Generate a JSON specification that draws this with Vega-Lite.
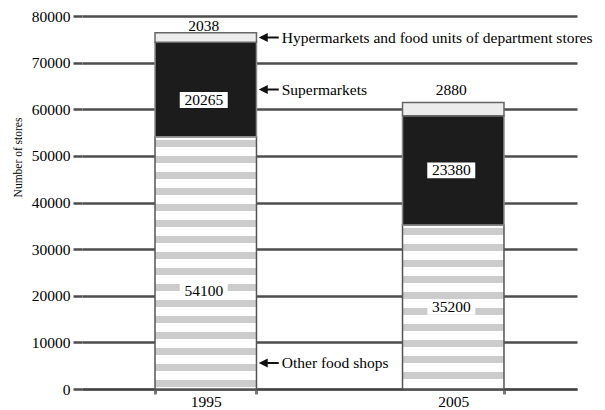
{
  "$schema": "https://vega.github.io/schema/vega-lite/v6.json",
  "width": 495,
  "height": 373,
  "autosize": {"type": "none"},
  "padding": {"left": 82, "top": 16, "right": 28, "bottom": 21},
  "background": "white",
  "config": {
    "view": {"stroke": null},
    "axisY": {
      "grid": true,
      "gridColor": "#4d4d4d",
      "gridWidth": 2.5,
      "domain": false,
      "ticks": true,
      "tickSize": 9,
      "tickColor": "#4d4d4d",
      "tickWidth": 2.5,
      "labelFont": "Liberation Serif, Times New Roman, DejaVu Serif, serif",
      "labelFontSize": 15.5,
      "labelColor": "black",
      "labelPadding": 3,
      "titleFont": "Liberation Serif, Times New Roman, DejaVu Serif, serif",
      "titleFontSize": 11.5,
      "titleFontWeight": "normal",
      "titleColor": "black",
      "titleX": -61,
      "titleY": 141,
      "titleAngle": -90,
      "titleAlign": "center",
      "titleBaseline": "alphabetic"
    }
  },
  "data": {
    "values": [
      {"year": "1995", "category": "Other food shops", "order": 1, "value": 54100},
      {"year": "1995", "category": "Supermarkets", "order": 2, "value": 20265},
      {"year": "1995", "category": "Hypermarkets and food units of department stores", "order": 3, "value": 2038},
      {"year": "2005", "category": "Other food shops", "order": 1, "value": 35200},
      {"year": "2005", "category": "Supermarkets", "order": 2, "value": 23380},
      {"year": "2005", "category": "Hypermarkets and food units of department stores", "order": 3, "value": 2880}
    ]
  },
  "transform": [
    {"stack": "value", "groupby": ["year"], "sort": [{"field": "order", "order": "ascending"}], "as": ["y0", "y1"]},
    {"calculate": "datum.order === 3 ? datum.y1 + (datum.year === '1995' ? 1450 : 2670) : (datum.year === '1995' ? (datum.order === 1 ? datum.y0 + 0.39 * (datum.y1 - datum.y0) : (datum.y0 + datum.y1) / 2 - 2250) : (datum.y0 + datum.y1) / 2)", "as": "labelPos"},
    {"calculate": "datum.order === 1 ? datum.y0 + 0.103 * (datum.y1 - datum.y0) : (datum.y0 + datum.y1) / 2", "as": "notePos"}
  ],
  "encoding": {
    "x": {
      "field": "year",
      "type": "nominal",
      "scale": {"paddingInner": 0.59, "paddingOuter": 0.295},
      "axis": {
        "title": null,
        "labelAngle": 0,
        "tickBand": "extent",
        "tickSize": 5,
        "tickWidth": 3,
        "tickColor": "#777777",
        "domainColor": "#444444",
        "domainWidth": 2,
        "labelFont": "Liberation Serif, Times New Roman, DejaVu Serif, serif",
        "labelFontSize": 15.5,
        "labelColor": "black",
        "labelPadding": 0,
        "grid": false
      }
    }
  },
  "layer": [
    {
      "transform": [{"filter": "datum.order === 1 && datum.year === '1995'"}],
      "mark": {
        "type": "bar",
        "stroke": "#555555",
        "strokeWidth": 1.5,
        "fill": {
          "gradient": "linear", "x1": 0, "y1": 0, "x2": 0, "y2": 1,
          "stops": [
            {"offset": 0, "color": "#ffffff"},
            {"offset": 0.0119, "color": "#ffffff"}, {"offset": 0.0119, "color": "#cccccc"}, {"offset": 0.0396, "color": "#cccccc"}, {"offset": 0.0396, "color": "#ffffff"},
            {"offset": 0.0753, "color": "#ffffff"}, {"offset": 0.0753, "color": "#cccccc"}, {"offset": 0.1031, "color": "#cccccc"}, {"offset": 0.1031, "color": "#ffffff"},
            {"offset": 0.1388, "color": "#ffffff"}, {"offset": 0.1388, "color": "#cccccc"}, {"offset": 0.1665, "color": "#cccccc"}, {"offset": 0.1665, "color": "#ffffff"},
            {"offset": 0.2022, "color": "#ffffff"}, {"offset": 0.2022, "color": "#cccccc"}, {"offset": 0.2299, "color": "#cccccc"}, {"offset": 0.2299, "color": "#ffffff"},
            {"offset": 0.2656, "color": "#ffffff"}, {"offset": 0.2656, "color": "#cccccc"}, {"offset": 0.2934, "color": "#cccccc"}, {"offset": 0.2934, "color": "#ffffff"},
            {"offset": 0.3291, "color": "#ffffff"}, {"offset": 0.3291, "color": "#cccccc"}, {"offset": 0.3568, "color": "#cccccc"}, {"offset": 0.3568, "color": "#ffffff"},
            {"offset": 0.3925, "color": "#ffffff"}, {"offset": 0.3925, "color": "#cccccc"}, {"offset": 0.4202, "color": "#cccccc"}, {"offset": 0.4202, "color": "#ffffff"},
            {"offset": 0.4559, "color": "#ffffff"}, {"offset": 0.4559, "color": "#cccccc"}, {"offset": 0.4837, "color": "#cccccc"}, {"offset": 0.4837, "color": "#ffffff"},
            {"offset": 0.5194, "color": "#ffffff"}, {"offset": 0.5194, "color": "#cccccc"}, {"offset": 0.5471, "color": "#cccccc"}, {"offset": 0.5471, "color": "#ffffff"},
            {"offset": 0.5828, "color": "#ffffff"}, {"offset": 0.5828, "color": "#cccccc"}, {"offset": 0.6105, "color": "#cccccc"}, {"offset": 0.6105, "color": "#ffffff"},
            {"offset": 0.6462, "color": "#ffffff"}, {"offset": 0.6462, "color": "#cccccc"}, {"offset": 0.674, "color": "#cccccc"}, {"offset": 0.674, "color": "#ffffff"},
            {"offset": 0.7096, "color": "#ffffff"}, {"offset": 0.7096, "color": "#cccccc"}, {"offset": 0.7374, "color": "#cccccc"}, {"offset": 0.7374, "color": "#ffffff"},
            {"offset": 0.7731, "color": "#ffffff"}, {"offset": 0.7731, "color": "#cccccc"}, {"offset": 0.8008, "color": "#cccccc"}, {"offset": 0.8008, "color": "#ffffff"},
            {"offset": 0.8365, "color": "#ffffff"}, {"offset": 0.8365, "color": "#cccccc"}, {"offset": 0.8643, "color": "#cccccc"}, {"offset": 0.8643, "color": "#ffffff"},
            {"offset": 0.8999, "color": "#ffffff"}, {"offset": 0.8999, "color": "#cccccc"}, {"offset": 0.9277, "color": "#cccccc"}, {"offset": 0.9277, "color": "#ffffff"},
            {"offset": 0.9634, "color": "#ffffff"}, {"offset": 0.9634, "color": "#cccccc"}, {"offset": 0.9911, "color": "#cccccc"}, {"offset": 0.9911, "color": "#ffffff"},
            {"offset": 1, "color": "#ffffff"}
          ]
        }
      },
      "encoding": {
        "y": {
          "field": "y1",
          "type": "quantitative",
          "scale": {"domain": [0, 80000], "nice": false},
          "axis": {"title": "Number of stores", "format": "d", "values": [0, 10000, 20000, 30000, 40000, 50000, 60000, 70000, 80000]}
        },
        "y2": {"field": "y0"}
      }
    },
    {
      "transform": [{"filter": "datum.order === 1 && datum.year === '2005'"}],
      "mark": {
        "type": "bar",
        "stroke": "#555555",
        "strokeWidth": 1.5,
        "fill": {
          "gradient": "linear", "x1": 0, "y1": 0, "x2": 0, "y2": 1,
          "stops": [
            {"offset": 0, "color": "#ffffff"},
            {"offset": 0.0183, "color": "#ffffff"}, {"offset": 0.0183, "color": "#cccccc"}, {"offset": 0.0609, "color": "#cccccc"}, {"offset": 0.0609, "color": "#ffffff"},
            {"offset": 0.1158, "color": "#ffffff"}, {"offset": 0.1158, "color": "#cccccc"}, {"offset": 0.1584, "color": "#cccccc"}, {"offset": 0.1584, "color": "#ffffff"},
            {"offset": 0.2133, "color": "#ffffff"}, {"offset": 0.2133, "color": "#cccccc"}, {"offset": 0.2559, "color": "#cccccc"}, {"offset": 0.2559, "color": "#ffffff"},
            {"offset": 0.3108, "color": "#ffffff"}, {"offset": 0.3108, "color": "#cccccc"}, {"offset": 0.3534, "color": "#cccccc"}, {"offset": 0.3534, "color": "#ffffff"},
            {"offset": 0.4082, "color": "#ffffff"}, {"offset": 0.4082, "color": "#cccccc"}, {"offset": 0.4509, "color": "#cccccc"}, {"offset": 0.4509, "color": "#ffffff"},
            {"offset": 0.5057, "color": "#ffffff"}, {"offset": 0.5057, "color": "#cccccc"}, {"offset": 0.5484, "color": "#cccccc"}, {"offset": 0.5484, "color": "#ffffff"},
            {"offset": 0.6032, "color": "#ffffff"}, {"offset": 0.6032, "color": "#cccccc"}, {"offset": 0.6459, "color": "#cccccc"}, {"offset": 0.6459, "color": "#ffffff"},
            {"offset": 0.7007, "color": "#ffffff"}, {"offset": 0.7007, "color": "#cccccc"}, {"offset": 0.7434, "color": "#cccccc"}, {"offset": 0.7434, "color": "#ffffff"},
            {"offset": 0.7982, "color": "#ffffff"}, {"offset": 0.7982, "color": "#cccccc"}, {"offset": 0.8409, "color": "#cccccc"}, {"offset": 0.8409, "color": "#ffffff"},
            {"offset": 0.8957, "color": "#ffffff"}, {"offset": 0.8957, "color": "#cccccc"}, {"offset": 0.9383, "color": "#cccccc"}, {"offset": 0.9383, "color": "#ffffff"},
            {"offset": 0.9932, "color": "#ffffff"}, {"offset": 0.9932, "color": "#cccccc"},
            {"offset": 1, "color": "#cccccc"}
          ]
        }
      },
      "encoding": {
        "y": {"field": "y1", "type": "quantitative", "axis": {"title": "Number of stores", "format": "d", "values": [0, 10000, 20000, 30000, 40000, 50000, 60000, 70000, 80000]}},
        "y2": {"field": "y0"}
      }
    },
    {
      "transform": [{"filter": "datum.order === 2"}],
      "mark": {"type": "bar", "fill": "#1c1c1c", "stroke": "#8a8a8a", "strokeWidth": 1.5},
      "encoding": {
        "y": {"field": "y1", "type": "quantitative", "axis": {"title": "Number of stores", "format": "d", "values": [0, 10000, 20000, 30000, 40000, 50000, 60000, 70000, 80000]}},
        "y2": {"field": "y0"}
      }
    },
    {
      "transform": [{"filter": "datum.order === 3"}],
      "mark": {"type": "bar", "fill": "#ececec", "stroke": "#666666", "strokeWidth": 1.5},
      "encoding": {
        "y": {"field": "y1", "type": "quantitative", "axis": {"title": "Number of stores", "format": "d", "values": [0, 10000, 20000, 30000, 40000, 50000, 60000, 70000, 80000]}},
        "y2": {"field": "y0"}
      }
    },
    {
      "transform": [{"filter": "datum.order !== 3"}],
      "mark": {"type": "point", "shape": "M-1,-0.33H1V0.33H-1Z", "size": 2304, "filled": true, "color": "white", "opacity": 1, "strokeWidth": 0, "xOffset": -2},
      "encoding": {
        "y": {"field": "labelPos", "type": "quantitative", "axis": {"title": "Number of stores", "format": "d", "values": [0, 10000, 20000, 30000, 40000, 50000, 60000, 70000, 80000]}}
      }
    },
    {
      "mark": {"type": "text", "font": "Liberation Serif, Times New Roman, DejaVu Serif, serif", "fontSize": 15.5, "color": "black", "baseline": "middle", "align": "center", "xOffset": -2},
      "encoding": {
        "y": {"field": "labelPos", "type": "quantitative", "axis": {"title": "Number of stores", "format": "d", "values": [0, 10000, 20000, 30000, 40000, 50000, 60000, 70000, 80000]}},
        "text": {"field": "value", "type": "quantitative", "format": "d"}
      }
    },
    {
      "transform": [{"filter": "datum.year === '1995'"}],
      "mark": {"type": "point", "shape": "M-1,0L-0.1,-0.45L-0.1,-0.09L1,-0.09L1,0.09L-0.1,0.09L-0.1,0.45Z", "size": 400, "filled": true, "color": "#111111", "opacity": 1, "strokeWidth": 0, "xOffset": 63},
      "encoding": {
        "y": {"field": "notePos", "type": "quantitative", "axis": {"title": "Number of stores", "format": "d", "values": [0, 10000, 20000, 30000, 40000, 50000, 60000, 70000, 80000]}}
      }
    },
    {
      "transform": [{"filter": "datum.year === '1995'"}],
      "mark": {"type": "text", "font": "Liberation Serif, Times New Roman, DejaVu Serif, serif", "fontSize": 15.5, "color": "black", "baseline": "middle", "align": "left", "xOffset": 76},
      "encoding": {
        "y": {"field": "notePos", "type": "quantitative", "axis": {"title": "Number of stores", "format": "d", "values": [0, 10000, 20000, 30000, 40000, 50000, 60000, 70000, 80000]}},
        "text": {"field": "category", "type": "nominal"}
      }
    }
  ]
}
